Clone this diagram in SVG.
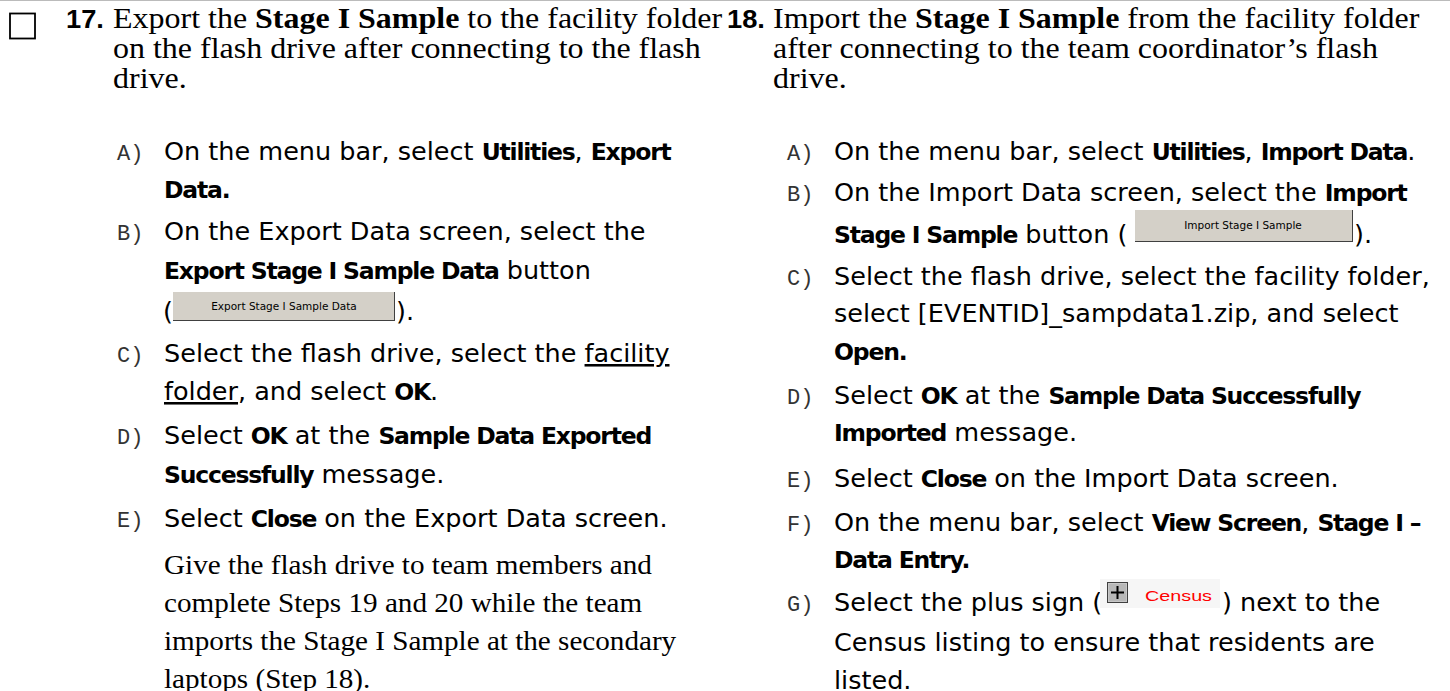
<svg xmlns="http://www.w3.org/2000/svg" width="1450" height="691" viewBox="0 0 1450 691">
<style>
.hd{font-family:"Liberation Serif","Times New Roman",serif;font-size:29px;fill:#000}
.pg{font-family:"Liberation Serif","Times New Roman",serif;font-size:26.5px;fill:#000}
.num{font-family:"Liberation Sans",Arial,sans-serif;font-weight:bold;font-size:26px;fill:#000}
.tx{font-family:"DejaVu Sans","Noto Sans",sans-serif;font-size:25.5px;fill:#000}
.b{font-weight:bold}
.tx .b,.tx.b{font-size:23.5px;letter-spacing:-1.2px}
.lb{font-family:"Liberation Mono","Courier New",monospace;font-size:22px;fill:#333}
.btn{fill:#d4d0c8}
.edge{stroke:#404040;stroke-width:1}
.bt{font-family:"DejaVu Sans",sans-serif;font-size:10.5px;fill:#000}
</style>
<rect x="0" y="0" width="1450" height="691" fill="#fff"/>
<line x1="0" y1="0.5" x2="1450" y2="0.5" stroke="#bbb" stroke-width="1"/>
<rect x="10" y="13.5" width="25" height="25" fill="none" stroke="#000" stroke-width="1.8"/>

<g id="step17">
<text class="num" transform="matrix(1.05 0 0 1 66 28)">17.</text>
<text class="hd" transform="matrix(1.103 0 0 1 113 28)">Export the <tspan class="b">Stage I Sample</tspan> to the facility folder</text>
<text class="hd" transform="matrix(1.103 0 0 1 113 58)">on the flash drive after connecting to the flash</text>
<text class="hd" transform="matrix(1.103 0 0 1 113 88)">drive.</text>

<text class="lb" x="117" y="160">A)</text>
<text class="tx" x="164" y="160">On the menu bar, select <tspan class="b">Utilities</tspan>, <tspan class="b">Export</tspan></text>
<text class="tx b" x="164" y="198">Data.</text>

<text class="lb" x="117" y="240">B)</text>
<text class="tx" x="164" y="240">On the Export Data screen, select the</text>
<text class="tx" x="164" y="279"><tspan class="b">Export Stage I Sample Data</tspan> button</text>
<text class="tx" x="163" y="320">(</text>
<g id="btn-export">
<rect class="btn" x="173" y="292" width="222" height="29"/>
<line class="edge" x1="173" y1="320.5" x2="395" y2="320.5"/>
<line class="edge" x1="394.5" y1="292" x2="394.5" y2="321"/>
<text class="bt" x="284" y="310" text-anchor="middle">Export Stage I Sample Data</text>
</g>
<text class="tx" x="396" y="320">).</text>

<text class="lb" x="117" y="362">C)</text>
<text class="tx" x="164" y="362">Select the flash drive, select the <tspan text-decoration="underline">facility</tspan></text>
<text class="tx" x="164" y="400"><tspan text-decoration="underline">folder</tspan>, and select <tspan class="b">OK</tspan>.</text>

<text class="lb" x="117" y="444">D)</text>
<text class="tx" x="164" y="444">Select <tspan class="b">OK</tspan> at the <tspan class="b">Sample Data Exported</tspan></text>
<text class="tx" x="164" y="483"><tspan class="b">Successfully</tspan> message.</text>

<text class="lb" x="117" y="527">E)</text>
<text class="tx" x="164" y="527">Select <tspan class="b">Close</tspan> on the Export Data screen.</text>

<text class="pg" transform="matrix(1.1 0 0 1 164 574)">Give the flash drive to team members and</text>
<text class="pg" transform="matrix(1.1 0 0 1 164 612)">complete Steps 19 and 20 while the team</text>
<text class="pg" transform="matrix(1.1 0 0 1 164 650)">imports the Stage I Sample at the secondary</text>
<text class="pg" transform="matrix(1.1 0 0 1 164 688)">laptops (Step 18).</text>
</g>

<g id="step18">
<text class="num" transform="matrix(1.05 0 0 1 727 28)">18.</text>
<text class="hd" transform="matrix(1.103 0 0 1 773 28)">Import the <tspan class="b">Stage I Sample</tspan> from the facility folder</text>
<text class="hd" transform="matrix(1.103 0 0 1 773 58)">after connecting to the team coordinator’s flash</text>
<text class="hd" transform="matrix(1.103 0 0 1 773 88)">drive.</text>

<text class="lb" x="787" y="160">A)</text>
<text class="tx" x="834" y="160">On the menu bar, select <tspan class="b">Utilities</tspan>, <tspan class="b">Import Data</tspan>.</text>

<text class="lb" x="787" y="201">B)</text>
<text class="tx" x="834" y="201">On the Import Data screen, select the <tspan class="b">Import</tspan></text>
<text class="tx" x="834" y="243"><tspan class="b">Stage I Sample</tspan> button (</text>
<g id="btn-import">
<rect class="btn" x="1135" y="210" width="218" height="32"/>
<line class="edge" x1="1135" y1="241.5" x2="1353" y2="241.5"/>
<line class="edge" x1="1352.5" y1="210" x2="1352.5" y2="242"/>
<text class="bt" x="1243" y="229" text-anchor="middle">Import Stage I Sample</text>
</g>
<text class="tx" x="1354" y="243">).</text>

<text class="lb" x="787" y="285">C)</text>
<text class="tx" x="834" y="285">Select the flash drive, select the facility folder,</text>
<text class="tx" x="834" y="322">select [EVENTID]_sampdata1.zip, and select</text>
<text class="tx b" x="834" y="360">Open.</text>

<text class="lb" x="787" y="404">D)</text>
<text class="tx" x="834" y="404">Select <tspan class="b">OK</tspan> at the <tspan class="b">Sample Data Successfully</tspan></text>
<text class="tx" x="834" y="441"><tspan class="b">Imported</tspan> message.</text>

<text class="lb" x="787" y="487">E)</text>
<text class="tx" x="834" y="487">Select <tspan class="b">Close</tspan> on the Import Data screen.</text>

<text class="lb" x="787" y="531">F)</text>
<text class="tx" x="834" y="531">On the menu bar, select <tspan class="b">View Screen</tspan>, <tspan class="b">Stage I –</tspan></text>
<text class="tx b" x="834" y="568">Data Entry.</text>

<text class="lb" x="787" y="611">G)</text>
<text class="tx" x="834" y="611">Select the plus sign (</text>
<g id="census-icon">
<rect x="1100" y="579" width="120" height="29" fill="#f6f6f6"/>
<rect x="1107.5" y="582.5" width="20" height="20" fill="#c8c8c8" stroke="#404040" stroke-width="1"/>
<rect x="1109" y="584" width="17" height="17" fill="#b8b8b8"/>
<line x1="1111" y1="592.5" x2="1124" y2="592.5" stroke="#000" stroke-width="2"/>
<line x1="1117.5" y1="586" x2="1117.5" y2="599" stroke="#000" stroke-width="2"/>
<text x="1145" y="601" font-family="Liberation Sans,Arial,sans-serif" font-size="15" fill="#ff0000" textLength="67" lengthAdjust="spacingAndGlyphs">Census</text>
</g>
<text class="tx" x="1222" y="611">) next to the</text>
<text class="tx" x="834" y="651">Census listing to ensure that residents are</text>
<text class="tx" x="834" y="689">listed.</text>
</g>
</svg>
